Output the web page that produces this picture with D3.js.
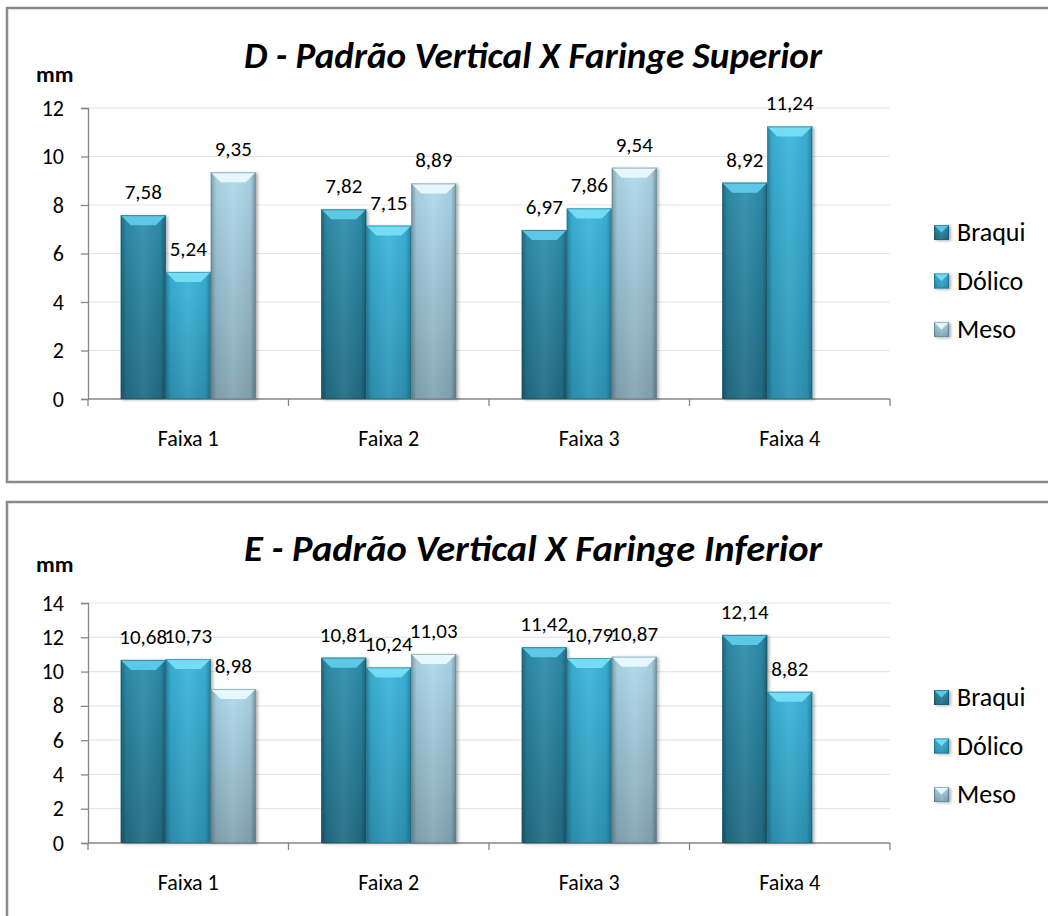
<!DOCTYPE html>
<html>
<head>
<meta charset="utf-8">
<script src="https://cdn.jsdelivr.net/npm/d3@7"></script>
<style>
  html, body { margin: 0; padding: 0; background: #fff; }
  svg { display: block; }
  text { font-family: Carlito, Calibri, Lato, "Open Sans", sans-serif; fill: #000; }
</style>
</head>
<body>
<svg id="chart" width="1048" height="916"></svg>
<script>
// ---------- DATA ----------
const categories = ["Faixa 1", "Faixa 2", "Faixa 3", "Faixa 4"];
const seriesNames = ["Braqui", "Dólico", "Meso"];

const titleD = "D - Padrão Vertical X Faringe Superior";
const braquiD = [7.58, 7.82, 6.97, 8.92];
const dolicoD = [5.24, 7.15, 7.86, 11.24];
const mesoD   = [9.35, 8.89, 9.54, null];
const ticksD  = [0, 2, 4, 6, 8, 10, 12];

const titleE = "E - Padrão Vertical X Faringe Inferior";
const braquiE = [10.68, 10.81, 11.42, 12.14];
const dolicoE = [10.73, 10.24, 10.79, 8.82];
const mesoE   = [8.98, 11.03, 10.87, null];
const ticksE  = [0, 2, 4, 6, 8, 10, 12, 14];

const unitLabel = "mm";

// ---------- STYLES ----------
const palette = {
  "Braqui": { top: "#2f90ad", bottom: "#226c84", bevel: "#5cc8e6", edge: "#1b5668" },
  "Dólico": { top: "#3cb6dc", bottom: "#2c93b3", bevel: "#74dcf6", edge: "#1f6f88" },
  "Meso":   { top: "#b0dbec", bottom: "#84a5b4", bevel: "#e6f8fd", edge: "#5d7f8d" }
};

const svg = d3.select("#chart");
const defs = svg.append("defs");

seriesNames.forEach((s, i) => {
  const c = palette[s];
  const v = defs.append("linearGradient").attr("id", "gv" + i)
    .attr("x1", 0).attr("y1", 0).attr("x2", 0).attr("y2", 1);
  v.append("stop").attr("offset", "0%").attr("stop-color", c.top);
  v.append("stop").attr("offset", "100%").attr("stop-color", c.bottom);
});
const gh = defs.append("linearGradient").attr("id", "gh")
  .attr("x1", 0).attr("y1", 0).attr("x2", 1).attr("y2", 0);
gh.append("stop").attr("offset", "0%").attr("stop-color", "#000").attr("stop-opacity", 0.28);
gh.append("stop").attr("offset", "12%").attr("stop-color", "#000").attr("stop-opacity", 0.05);
gh.append("stop").attr("offset", "50%").attr("stop-color", "#fff").attr("stop-opacity", 0.06);
gh.append("stop").attr("offset", "88%").attr("stop-color", "#000").attr("stop-opacity", 0.05);
gh.append("stop").attr("offset", "100%").attr("stop-color", "#000").attr("stop-opacity", 0.3);

const shadow = defs.append("filter").attr("id", "shadow")
  .attr("x", "-20%").attr("y", "-20%").attr("width", "150%").attr("height", "150%");
shadow.append("feDropShadow").attr("dx", 2).attr("dy", 1).attr("stdDeviation", 1.5)
  .attr("flood-color", "#000").attr("flood-opacity", 0.3);

const fmt = v => v.toFixed(2).replace(".", ",");

function drawBevelBar(g, x, y, w, h, si) {
  const c = palette[seriesNames[si]];
  const b = Math.min(10, h / 2);
  const grp = g.append("g").attr("filter", "url(#shadow)");
  grp.append("rect").attr("x", x).attr("y", y).attr("width", w).attr("height", h)
    .attr("fill", `url(#gv${si})`);
  grp.append("rect").attr("x", x).attr("y", y).attr("width", w).attr("height", h)
    .attr("fill", "url(#gh)");
  grp.append("polygon")
    .attr("points", [[x, y], [x + w, y], [x + w - b, y + b], [x + b, y + b]].map(p => p.join(",")).join(" "))
    .attr("fill", c.bevel);
  grp.append("rect").attr("x", x + 0.5).attr("y", y + 0.5).attr("width", w - 1).attr("height", h - 1)
    .attr("fill", "none").attr("stroke", c.edge).attr("stroke-opacity", 0.55).attr("stroke-width", 1);
}

function drawPanel(cfg) {
  const { title, series, ticks, panelY, panelH, y0, yTop, titleY, mmY, legendY } = cfg;
  const g = svg.append("g");

  // panel border
  g.append("rect").attr("x", 7).attr("y", panelY).attr("width", 1060).attr("height", panelH)
    .attr("fill", "#fff").attr("stroke", "#8a8a8a").attr("stroke-width", 2.5);

  const x0 = d3.scaleBand().domain(categories).range([88, 890]).paddingInner(0).paddingOuter(0);
  const x1 = d3.scaleBand().domain(seriesNames).range([0, x0.bandwidth()]).paddingInner(0).paddingOuter(0.728);
  const y = d3.scaleLinear().domain([0, d3.max(ticks)]).range([y0, yTop]);

  // gridlines
  g.append("g").selectAll("line").data(ticks.filter(t => t > 0)).join("line")
    .attr("x1", 88).attr("x2", 890).attr("y1", d => y(d)).attr("y2", d => y(d))
    .attr("stroke", "#e6e6e6").attr("stroke-width", 1.2);

  // y axis
  const yAxis = d3.axisLeft(y).tickValues(ticks).tickSize(7).tickPadding(17).tickFormat(d => d);
  const ya = g.append("g").attr("transform", "translate(88,0)").call(yAxis);
  ya.attr("font-size", null).attr("font-family", null);
  ya.select(".domain").attr("stroke", "#868686").attr("stroke-width", 1.3);
  ya.selectAll(".tick line").attr("stroke", "#868686").attr("stroke-width", 1.3);
  ya.selectAll(".tick text").style("font-size", "22px").attr("fill", "#000");

  // x axis (ticks at boundaries)
  const xa = g.append("g").attr("transform", `translate(0,${y0})`);
  xa.append("line").attr("x1", 88).attr("x2", 890).attr("y1", 0).attr("y2", 0)
    .attr("stroke", "#868686").attr("stroke-width", 1.3);
  const bounds = categories.map(c => x0(c)).concat([x0(categories[categories.length - 1]) + x0.bandwidth()]);
  xa.selectAll("line.tk").data(bounds).join("line").attr("class", "tk")
    .attr("x1", d => d).attr("x2", d => d).attr("y1", 0).attr("y2", 7)
    .attr("stroke", "#868686").attr("stroke-width", 1.3);
  xa.selectAll("text").data(categories).join("text")
    .attr("x", d => x0(d) + x0.bandwidth() / 2).attr("y", 47)
    .attr("text-anchor", "middle").style("font-size", "22px").text(d => d);

  // bars
  const barsG = g.append("g");
  const labelsG = g.append("g");
  categories.forEach((cat, ci) => {
    series.forEach((arr, si) => {
      const v = arr[ci];
      if (v == null) return;
      const bx = x0(cat) + x1(seriesNames[si]);
      const by = y(v);
      drawBevelBar(barsG, bx, by, x1.bandwidth(), y0 - by, si);
      labelsG.append("text")
        .attr("x", bx + x1.bandwidth() / 2).attr("y", by - 16)
        .attr("text-anchor", "middle").style("font-size", "21px").text(fmt(v));
    });
  });

  // title
  g.append("text").attr("x", 533).attr("y", titleY).attr("text-anchor", "middle")
    .style("font-size", "37px").style("font-weight", "bold").style("font-style", "italic")
    .attr("textLength", 578).attr("lengthAdjust", "spacingAndGlyphs")
    .text(title);
  g.append("text").attr("x", 36).attr("y", mmY)
    .style("font-size", "23px").style("font-weight", "bold").text(unitLabel);

  // legend
  const lg = g.append("g");
  seriesNames.forEach((s, si) => {
    const ly = legendY + si * 48.5;
    drawBevelBar(lg, 934, ly - 7, 15, 15, si);
    lg.append("text").attr("x", 957).attr("y", ly + 9).style("font-size", "26px").text(s);
  });
}

drawPanel({ title: titleD, series: [braquiD, dolicoD, mesoD], ticks: ticksD,
  panelY: 8, panelH: 474, y0: 399, yTop: 108, titleY: 68, mmY: 82, legendY: 232 });
drawPanel({ title: titleE, series: [braquiE, dolicoE, mesoE], ticks: ticksE,
  panelY: 502, panelH: 440, y0: 843, yTop: 603, titleY: 561, mmY: 572, legendY: 697 });
</script>
</body>
</html>
